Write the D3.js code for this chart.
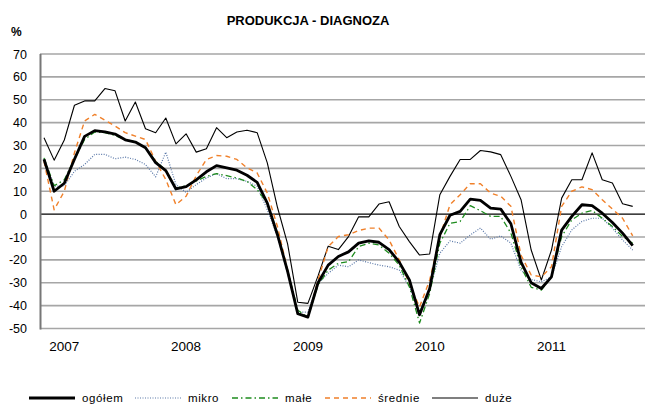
<!DOCTYPE html>
<html>
<head>
<meta charset="utf-8">
<script src="https://cdn.jsdelivr.net/npm/d3@7"></script>
<style>
body { margin:0; background:#fff; }
svg { display:block; font-family: Arial, "Liberation Sans", sans-serif; }
</style>
</head>
<body>
<div id="chart"></div>
<script>
var width = 645;
var height = 406;

// months Nov 2006 .. Sep 2011 (59 points)
var months = d3.timeMonth.range(new Date(2006, 10, 1), new Date(2011, 9, 1));
var yearLabels = ["2007", "2008", "2009", "2010", "2011"];
var yTicks = [70, 60, 50, 40, 30, 20, 10, 0, -10, -20, -30, -40, -50];

var ogolem = [24, 10, 13.5, 24, 34, 36.5, 36, 35, 32.5, 31.5, 29, 22.5, 19, 11, 12,
  15, 18.5, 21.2, 20.2, 19.2, 17, 13.9, 4.8, -9, -25, -43.5, -45, -30, -22.3, -18.5,
  -16.5, -12.7, -11.7, -12.3, -15.5, -21, -28.8, -44, -32.5, -9, -0.5, 1.2, 6.6, 6, 2.6,
  2.2, -4.2, -21, -30, -32.5, -27.4, -7, -1, 4.1, 3.7, 0.4, -3.7, -8.3, -13.8];
var mikro = [24.2, 12.2, 12.4, 18.7, 21.7, 26.1, 26.1, 24.2, 24.9, 23.9, 21.7, 16.3, 27.1, 12.9, 9.5,
  12.9, 15.8, 17.7, 15.5, 15.5, 14.3, 12.2, 1.9, -9.8, -25.9, -42.8, -42.8, -30.3, -25.9, -22.3,
  -23, -20, -21.2, -22.3, -23, -24.5, -31.8, -42.8, -33.2, -17.1, -11.7, -12.7, -9.1, -6.1, -11,
  -9.5, -12.7, -24.5, -28.6, -29.6, -27.4, -14.2, -6.9, -3.2, -1.8, -1.8, -6.1, -11.3, -15.7];
var male = [24.6, 12.4, 15, 24, 32.6, 35.9, 35.6, 34.4, 32.6, 31.6, 29, 23.1, 19.2, 11.4, 12.4,
  14.5, 16.5, 17.7, 16.8, 15.8, 14.3, 10.7, 4.8, -8.3, -24.5, -42, -45.2, -31, -24.5, -21.5,
  -20.8, -14.2, -12.7, -13.5, -17.1, -22.3, -31.8, -47.6, -34.7, -12.7, -4, -3.2, 3.7, 1.5, -1,
  -1, -8.3, -23, -32, -33.2, -27.4, -9.8, -2.5, 0.4, 1.6, -1.8, -5.4, -9.8, -12.7];
var srednie = [23.1, 1.9, 10, 26.8, 40.7, 43.6, 41.1, 38.5, 35.6, 34.1, 32.6, 23.1, 15.1, 4.1, 7.8,
  16.8, 23.9, 25.6, 25.3, 23.9, 20.2, 18, 9.2, -5.4, -24.5, -43.5, -45.2, -28.8, -14.2, -9.8,
  -9, -7.2, -6.1, -6.1, -11.3, -20, -30.3, -40.6, -28.8, -9.8, 4.1, 8.5, 13.3, 13.3, 9.2,
  7.8, 3.4, -18, -26.6, -27.4, -23, 3.4, 10, 11.9, 10.7, 6.3, 2.2, -1.8, -9.5];
var duze = [33.4, 23.6, 32.4, 47.6, 49.5, 49.5, 54.9, 53.9, 40.7, 49, 37.3, 35.6, 42, 30.7, 35.1,
  27.1, 28.6, 37.8, 33.4, 35.9, 36.7, 35.6, 22.4, 3, -13, -38.5, -39, -27, -14, -15.5,
  -9.8, -1.2, -1.2, 4.4, 5.4, -5.4, -12, -17.9, -17.4, 8.5, 16.5, 23.9, 23.9, 27.8, 27.2,
  26, 16.5, 6.3, -15.7, -28.8, -15.7, 7, 15, 15, 26.8, 15, 13.6, 4.5, 3.4];

var series = [
  {name: "ogółem", values: ogolem, color: "#000", w: 2.8, dash: null},
  {name: "mikro", values: mikro, color: "#5a78a8", w: 1.2, dash: "1,1.5"},
  {name: "małe", values: male, color: "#1e8c1e", w: 1.3, dash: "6,3,1.5,3"},
  {name: "średnie", values: srednie, color: "#f0802a", w: 1.4, dash: "5,4"},
  {name: "duże", values: duze, color: "#000", w: 1.1, dash: null}
];

var svg = d3.select("#chart").append("svg")
  .attr("width", width)
  .attr("height", height);

var x = d3.scaleLinear().domain([0, months.length - 1]).range([44, 632.7]);
var y = d3.scaleLinear().domain([-50, 70]).range([328.5, 54]);

// title
svg.append("text")
  .attr("x", 308).attr("y", 25)
  .attr("text-anchor", "middle")
  .style("font-size", "13px").style("font-weight", "bold")
  .text("PRODUKCJA - DIAGNOZA");

svg.append("text")
  .attr("x", 11).attr("y", 36)
  .style("font-size", "12px").style("font-weight", "bold")
  .text("%");

// gridlines
svg.selectAll("line.grid")
  .data(yTicks)
  .enter().append("line")
  .attr("class", "grid")
  .attr("x1", 40).attr("x2", width)
  .attr("y1", function(d){ return y(d); })
  .attr("y2", function(d){ return y(d); })
  .style("stroke", function(d){ return d == 0 ? "#000" : "#a6a6a6"; })
  .style("stroke-width", function(d){ return d == 0 ? 1.2 : 1.6; });

// left axis line
svg.append("line")
  .attr("x1", 40.5).attr("x2", 40.5)
  .attr("y1", y(70)).attr("y2", y(-50) + 1)
  .style("stroke", "#777").style("stroke-width", 2);

svg.selectAll("text.ytick")
  .data(yTicks)
  .enter().append("text")
  .attr("class", "ytick")
  .attr("x", 27)
  .attr("y", function(d){ return y(d) + 4.5; })
  .attr("text-anchor", "end")
  .style("font-size", "12.5px")
  .text(function(d){ return d; });

// year labels at January positions
var janIdx = [];
months.forEach(function(m, i){ if (m.getMonth() == 0) janIdx.push(i); });
svg.selectAll("text.year")
  .data(yearLabels)
  .enter().append("text")
  .attr("class", "year")
  .attr("x", function(d, i){ return x(janIdx[i]); })
  .attr("y", 351)
  .attr("text-anchor", "middle")
  .style("font-size", "13.5px")
  .text(function(d){ return d; });

var line = d3.line()
  .x(function(d, i){ return x(i); })
  .y(function(d){ return y(d); });

// draw back to front
var drawOrder = [4, 3, 1, 2, 0];
drawOrder.forEach(function(k){
  var s = series[k];
  svg.append("path")
    .attr("d", line(s.values))
    .style("fill", "none")
    .style("stroke", s.color)
    .style("stroke-width", s.w)
    .style("stroke-dasharray", s.dash)
    .style("stroke-linejoin", "round");
});

// legend
var legendX = [29, 135, 232, 325, 432];
var legend = svg.selectAll("g.key")
  .data(series)
  .enter().append("g")
  .attr("class", "key")
  .attr("transform", function(d, i){ return "translate(" + legendX[i] + ",398)"; });

legend.append("line")
  .attr("x1", 0).attr("x2", 46)
  .style("stroke", function(d){ return d.color; })
  .style("stroke-width", function(d){ return d.w; })
  .style("stroke-dasharray", function(d){ return d.dash; });

legend.append("text")
  .attr("x", 53).attr("y", 4)
  .style("font-size", "11.5px")
  .style("letter-spacing", "0.6px")
  .text(function(d){ return d.name; });
</script>
</body>
</html>
